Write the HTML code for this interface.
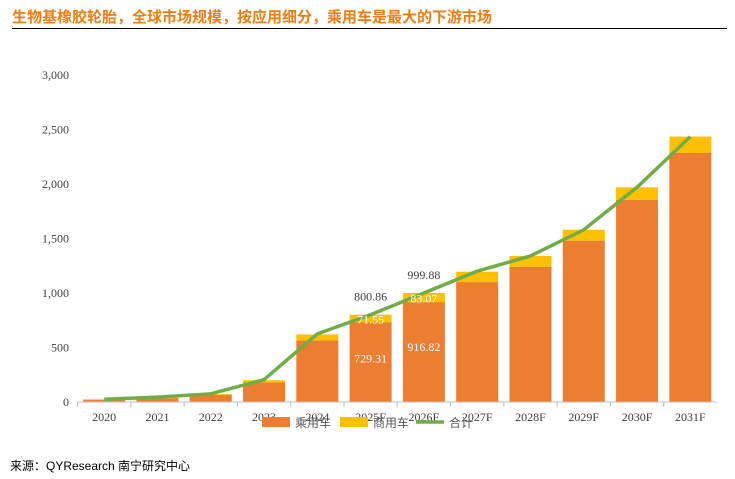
<!DOCTYPE html>
<html><head><meta charset="utf-8"><style>
body{margin:0;background:#fff;width:735px;height:479px;overflow:hidden;font-family:"Liberation Serif","Noto Serif CJK SC",serif}
.t{position:absolute;left:12px;top:6px;font:bold 15px "Liberation Sans","Noto Sans CJK SC",sans-serif;color:#ee7d12}
.hr{position:absolute;left:12px;top:28px;width:715px;height:1px;background:#000}
.src{position:absolute;left:10px;top:457px;font:12px "Liberation Sans","Noto Sans CJK SC",sans-serif;color:#000}
</style></head><body>
<div class="t">生物基橡胶轮胎，全球市场规模，按应用细分，乘用车是最大的下游市场</div>
<div class="hr"></div>
<svg id="c" width="735" height="479" style="position:absolute;left:0;top:0"></svg>
<div class="src">来源：QYResearch 南宁研究中心</div>
<script>
const categories=["2020","2021","2022","2023","2024","2025F","2026F","2027F","2028F","2029F","2030F","2031F"];
const passenger=[18,35,66,180,565,729.31,916.82,1100,1240,1480,1855,2285];
const commercial=[7,6,7,20,55,71.55,83.07,95,100,100,115,150];
const totals=[25,45,75,205,625,800.86,999.88,1200,1340,1580,1970,2435];
const yTicks=[0,500,1000,1500,2000,2500,3000];
const yTickLabels=["0","500","1,000","1,500","2,000","2,500","3,000"];
const NS="http://www.w3.org/2000/svg",svg=document.getElementById('c');
const x0=77.5,x1=717,y0=402,yTop=75;
const step=(x1-x0)/categories.length;
const X=i=>x0+step*(i+0.5);
const Y=v=>y0-(v/3000)*(y0-yTop);
function mk(t,a,txt){const e=document.createElementNS(NS,t);for(const k in a)e.setAttribute(k,a[k]);if(txt!=null)e.textContent=txt;svg.appendChild(e);return e;}
yTicks.forEach((v,i)=>{const e=mk('text',{x:69,y:Y(v)+4,'text-anchor':'end','font-size':12,fill:'#404040'},yTickLabels[i]);

});
const bw=42;
categories.forEach((c,i)=>{
 const p=mk('rect',{x:X(i)-bw/2,y:Y(passenger[i]),width:bw,height:y0-Y(passenger[i]),fill:'#ed7d31'});
 
 
 const s=mk('rect',{x:X(i)-bw/2,y:Y(passenger[i]+commercial[i]),width:bw,height:Y(passenger[i])-Y(passenger[i]+commercial[i]),fill:'#ffc000'});
 
 
 const l=mk('text',{x:X(i),y:421,'text-anchor':'middle','font-size':12,fill:'#404040'},c);
 
 
 const tk=mk('line',{x1:x0+step*i,x2:x0+step*i,y1:y0,y2:y0+5,stroke:'#bfbfbf'});
 
 
});
const ax=mk('line',{x1:x0,x2:x1,y1:y0,y2:y0,stroke:'#bfbfbf'});


const ln=mk('polyline',{points:totals.map((v,i)=>X(i)+','+Y(v)).join(' '),fill:'none',stroke:'#70ad47','stroke-width':3.5});


[5,6].forEach(i=>{
 let e=mk('text',{x:X(i),y:Y(totals[i])-14,'text-anchor':'middle','font-size':12,fill:'#404040'},totals[i].toFixed(2));
 
 
 e=mk('text',{x:X(i),y:Y(passenger[i]+commercial[i]/2)+5,'text-anchor':'middle','font-size':12,fill:'#fff'},commercial[i].toFixed(2));
 
 
 e=mk('text',{x:X(i),y:Y(passenger[i]*0.55)+4,'text-anchor':'middle','font-size':12,fill:'#fff'},passenger[i].toFixed(2));
 
 
});
const lg=[["#ed7d31","乘用车",262,'r'],["#ffc000","商用车",340,'r'],["#70ad47","合计",416,'l']];
lg.forEach(d=>{
 const m=d[3]=='r'?mk('rect',{x:d[2],y:417,width:28,height:10,fill:d[0]}):mk('line',{x1:d[2],x2:d[2]+28,y1:422,y2:422,stroke:d[0],'stroke-width':3.5});
 
 
 const t=mk('text',{x:d[2]+33,y:427,'font-size':12,fill:'#595959','font-family':'"Liberation Sans","Noto Sans CJK SC",sans-serif'},d[1]);
 
 
});
</script>
</body></html>
